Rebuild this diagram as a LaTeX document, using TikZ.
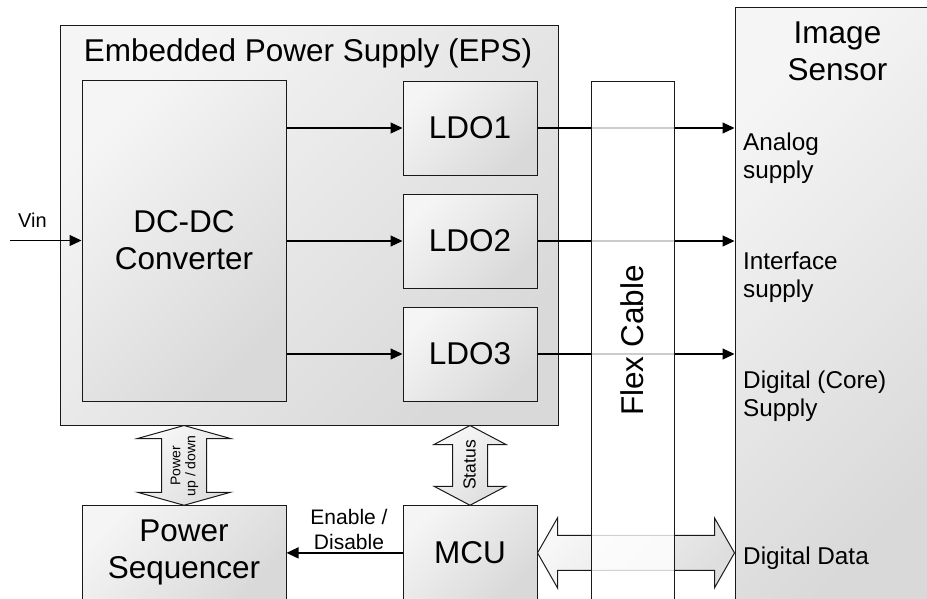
\documentclass[tikz,border=0pt]{standalone}
\usepackage{fontspec}
\setmainfont{Liberation Sans}
\usetikzlibrary{arrows.meta,calc}
\newcommand\fBig{\fontsize{31.5}{37}\selectfont}
\newcommand\fSen{\fontsize{24.3}{28}\selectfont}
\newcommand\fVin{\fontsize{20}{24}\selectfont}
\newcommand\fEn{\fontsize{21}{25}\selectfont}
\newcommand\fSm{\fontsize{14}{15}\selectfont}
\newcommand\fSt{\fontsize{17.5}{20}\selectfont}
\newcommand\vdarr[5]{%
  \path[bigarr] let \p1=#1, \p2=#2 in
    (\x1,\y1) -- (\x1+#4pt,\y1-#3pt) -- (\x1+#5pt,\y1-#3pt) -- (\x1+#5pt,\y2+#3pt)
    -- (\x1+#4pt,\y2+#3pt) -- (\x1,\y2) -- (\x1-#4pt,\y2+#3pt) -- (\x1-#5pt,\y2+#3pt)
    -- (\x1-#5pt,\y1-#3pt) -- (\x1-#4pt,\y1-#3pt) -- cycle;}
\newcommand\hdarr[5]{%
  \path[bigarr] let \p1=#1, \p2=#2 in
    (\x1,\y1) -- (\x1+#3pt,\y1+#4pt) -- (\x1+#3pt,\y1+#5pt) -- (\x2-#3pt,\y1+#5pt)
    -- (\x2-#3pt,\y1+#4pt) -- (\x2,\y1) -- (\x2-#3pt,\y1-#4pt) -- (\x2-#3pt,\y1-#5pt)
    -- (\x1+#3pt,\y1-#5pt) -- (\x1+#3pt,\y1-#4pt) -- cycle;}
\begin{document}
\begin{tikzpicture}[x=1pt,y=-1pt,
  line/.style={draw=black!90, line width=1pt},
  gbox/.style={line, top color=black!4, middle color=black!5, bottom color=black!15,
    shading angle=45, inner sep=0pt, align=center, font=\fBig},
  bigarr/.style={line, top color=black!3, middle color=black!5, bottom color=black!13, shading angle=45},
  arr/.style={draw=black, line width=1.2pt, -{Triangle[length=12pt,width=11pt]}},
  lbl/.style={inner sep=0pt, align=left, anchor=west, font=\fSen}]
\useasboundingbox (0,0) rectangle (927,598);
\clip (0,0) rectangle (927,598);
% boxes
\node[gbox, minimum width=498, minimum height=400] (eps) at (309,225) {};
\node[inner sep=0pt, font=\fBig, anchor=base] (epst) at (308,61) {Embedded Power Supply (EPS)};
\node[gbox, minimum width=204, minimum height=321] (dcdc) at (184,240.5) {DC-DC\\Converter};
\node[gbox, minimum width=134, minimum height=94] (ldo1) at (470,128) {LDO1};
\node[gbox, minimum width=134, minimum height=94] (ldo2) at (470,241) {LDO2};
\node[gbox, minimum width=134, minimum height=94] (ldo3) at (470,354) {LDO3};
\node[gbox, minimum width=205, minimum height=594] (sensor) at (837.5,304) {};
\node[inner sep=0pt, align=center, font=\fBig] (stitle) at (837.5,51.5) {Image\\Sensor};
\node[gbox, minimum width=204, minimum height=94.3] (pseq) at (184,552.9) {Power\\Sequencer};
\node[gbox, minimum width=134, minimum height=94.3] (mcu) at (470,552.9) {MCU};
% sensor labels
\node[lbl] (la) at (743,158) {Analog\\supply};
\node[lbl] (li) at (743,277) {Interface\\supply};
\node[lbl] (ld) at (743,396) {Digital (Core)\\Supply};
\node[lbl] (ldd) at (743,558) {Digital Data};
% arrows
\coordinate (vin) at (10,240.5);
\draw[arr] (vin) -- (dcdc.west);
\node[inner sep=0pt, font=\fVin] (vint) at (32.5,220) {Vin};
\draw[arr] (dcdc.east |- ldo1.west) -- (ldo1.west);
\draw[arr] (dcdc.east |- ldo2.west) -- (ldo2.west);
\draw[arr] (dcdc.east |- ldo3.west) -- (ldo3.west);
\draw[arr] (ldo1.east) -- (ldo1.east -| sensor.west);
\draw[arr] (ldo2.east) -- (ldo2.east -| sensor.west);
\draw[arr] (ldo3.east) -- (ldo3.east -| sensor.west);
\draw[arr] (mcu.west) -- (pseq.east);
\node[inner sep=0pt, align=center, font=\fEn] (en) at (349,529) {Enable /\\Disable};
% big arrows
\vdarr{(dcdc.south |- eps.south)}{(pseq.north)}{13}{46.5}{22.5}
\node[inner sep=0pt, align=center, font=\fSm, rotate=90] (pud) at (184.5,466) {Power\\up / down};
\vdarr{(mcu.north |- eps.south)}{(mcu.north)}{19}{36}{17.5}
\node[inner sep=0pt, font=\fSt, rotate=90] (st) at (469.5,465) {Status};
\hdarr{(mcu.east)}{(mcu.east -| sensor.west)}{20}{35}{17.5}
% flex cable on top
\node[line, fill=white, fill opacity=0.8, text opacity=1, rotate=90, font=\fBig,
  minimum width=519, minimum height=83, inner sep=0pt] (flex) at (632.5,340.5) {Flex Cable};
\end{tikzpicture}
\end{document}
